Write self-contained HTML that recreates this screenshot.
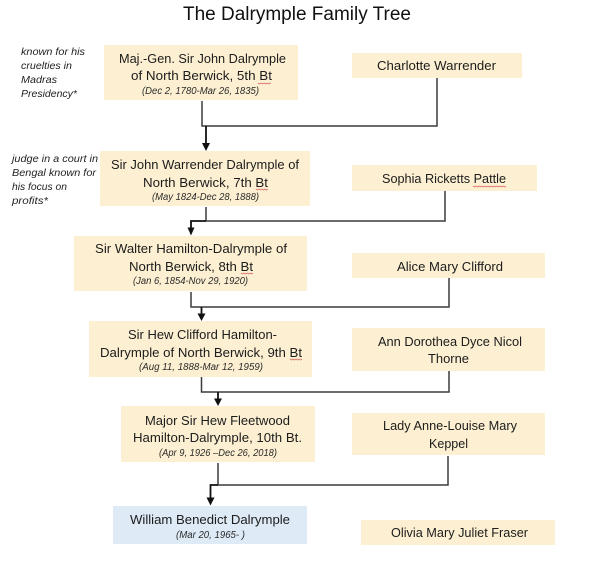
<!DOCTYPE html>
<html>
<head>
<meta charset="utf-8">
<style>
html,body{margin:0;padding:0;background:#fff;width:600px;height:567px;overflow:hidden}
svg{display:block}
text{font-family:"Liberation Sans",sans-serif;fill:#1c1c1c}
.n{font-size:12.5px}
.d{font-size:10px;font-style:italic;fill:#2a2a2a}
.a{font-size:10.5px;font-style:italic;fill:#222}
.t{font-size:19px;fill:#111}
.y{fill:#fdf0d2}
.l{stroke:#3c3c3c;stroke-width:1.5;fill:none}
.k{stroke:#111;stroke-width:1.8;fill:none}
.s{stroke:#d9706a;stroke-width:.8;fill:none}
</style>
</head>
<body>
<svg width="600" height="567" viewBox="0 0 600 567" xmlns="http://www.w3.org/2000/svg">
<text class="t" x="183" y="20" textLength="228" lengthAdjust="spacingAndGlyphs">The Dalrymple Family Tree</text>

<rect class="y" x="104" y="45" width="194" height="55"/>
<rect class="y" x="100" y="151" width="210" height="55"/>
<rect class="y" x="74" y="236" width="233" height="55"/>
<rect class="y" x="89" y="321" width="223" height="56"/>
<rect class="y" x="121" y="406" width="194" height="56"/>
<rect x="113" y="506" width="194" height="38" fill="#deeaf6"/>
<rect class="y" x="352" y="53" width="170" height="25"/>
<rect class="y" x="352" y="165" width="185" height="26"/>
<rect class="y" x="352" y="253" width="193" height="25"/>
<rect class="y" x="352" y="328" width="193" height="43"/>
<rect class="y" x="352" y="413" width="193" height="42"/>
<rect class="y" x="361" y="520" width="194" height="25"/>

<path class="l" d="M202 101V126H437V78"/>
<path class="k" d="M206 126V144"/><path d="M202 143H210L206 151Z" fill="#111"/>
<path class="l" d="M206 207V221H445V191"/>
<path class="k" d="M206 221H191V228"/><path d="M187.500 227.500H194.500L191 235.500Z" fill="#111"/>
<path class="l" d="M191 292V307H449V278"/>
<path class="k" d="M201.500 307V314"/><path d="M197.500 313.500H205.500L201.500 321Z" fill="#111"/>
<path class="l" d="M201.500 377V392H449V371"/>
<path class="k" d="M218 392V399"/><path d="M214 398.500H222L218 406Z" fill="#111"/>
<path class="l" d="M218 463V485H448V456"/>
<path class="k" d="M218 485H210.500V498"/><path d="M206.500 497.500H214.500L210.500 505.500Z" fill="#111"/>

<text class="a" x="21" y="55" textLength="64" lengthAdjust="spacingAndGlyphs">known for his</text>
<text class="a" x="21" y="69" textLength="51" lengthAdjust="spacingAndGlyphs">cruelties in</text>
<text class="a" x="21" y="83" textLength="36" lengthAdjust="spacingAndGlyphs">Madras</text>
<text class="a" x="21" y="97" textLength="56" lengthAdjust="spacingAndGlyphs">Presidency*</text>
<text class="a" x="12" y="162" textLength="86" lengthAdjust="spacingAndGlyphs">judge in a court in</text>
<text class="a" x="12" y="176" textLength="84" lengthAdjust="spacingAndGlyphs">Bengal known for</text>
<text class="a" x="12" y="190" textLength="55" lengthAdjust="spacingAndGlyphs">his focus on</text>
<text class="a" x="12" y="204" textLength="36" lengthAdjust="spacingAndGlyphs">profits*</text>

<text class="n" x="119" y="63" textLength="167" lengthAdjust="spacingAndGlyphs">Maj.-Gen. Sir John Dalrymple</text>
<text class="n" x="131" y="80" textLength="141" lengthAdjust="spacingAndGlyphs">of North Berwick, 5th Bt</text>
<text class="d" x="142" y="94" textLength="117" lengthAdjust="spacingAndGlyphs">(Dec 2, 1780-Mar 26, 1835)</text>

<text class="n" x="111" y="169" textLength="188" lengthAdjust="spacingAndGlyphs">Sir John Warrender Dalrymple of</text>
<text class="n" x="143" y="187" textLength="125" lengthAdjust="spacingAndGlyphs">North Berwick, 7th Bt</text>
<text class="d" x="152" y="200" textLength="107" lengthAdjust="spacingAndGlyphs">(May 1824-Dec 28, 1888)</text>

<text class="n" x="95" y="253" textLength="192" lengthAdjust="spacingAndGlyphs">Sir Walter Hamilton-Dalrymple of</text>
<text class="n" x="129" y="271" textLength="124" lengthAdjust="spacingAndGlyphs">North Berwick, 8th Bt</text>
<text class="d" x="133" y="284" textLength="115" lengthAdjust="spacingAndGlyphs">(Jan 6, 1854-Nov 29, 1920)</text>

<text class="n" x="128" y="339" textLength="149" lengthAdjust="spacingAndGlyphs">Sir Hew Clifford Hamilton-</text>
<text class="n" x="100" y="357" textLength="202" lengthAdjust="spacingAndGlyphs">Dalrymple of North Berwick, 9th Bt</text>
<text class="d" x="139" y="370" textLength="124" lengthAdjust="spacingAndGlyphs">(Aug 11, 1888-Mar 12, 1959)</text>

<text class="n" x="145" y="425" textLength="145" lengthAdjust="spacingAndGlyphs">Major Sir Hew Fleetwood</text>
<text class="n" x="133" y="442" textLength="169" lengthAdjust="spacingAndGlyphs">Hamilton-Dalrymple, 10th Bt.</text>
<text class="d" x="159" y="456" textLength="118" lengthAdjust="spacingAndGlyphs">(Apr 9, 1926 –Dec 26, 2018)</text>

<text class="n" x="130" y="524" textLength="160" lengthAdjust="spacingAndGlyphs">William Benedict Dalrymple</text>
<text class="d" x="176" y="538" textLength="69" lengthAdjust="spacingAndGlyphs">(Mar 20, 1965- )</text>

<text class="n" x="377" y="70" textLength="119" lengthAdjust="spacingAndGlyphs">Charlotte Warrender</text>
<text class="n" x="382" y="183" textLength="124" lengthAdjust="spacingAndGlyphs">Sophia Ricketts Pattle</text>
<text class="n" x="397" y="271" textLength="106" lengthAdjust="spacingAndGlyphs">Alice Mary Clifford</text>
<text class="n" x="378" y="346" textLength="144" lengthAdjust="spacingAndGlyphs">Ann Dorothea Dyce Nicol</text>
<text class="n" x="428" y="363" textLength="41" lengthAdjust="spacingAndGlyphs">Thorne</text>
<text class="n" x="383" y="430" textLength="134" lengthAdjust="spacingAndGlyphs">Lady Anne-Louise Mary</text>
<text class="n" x="429" y="448" textLength="39" lengthAdjust="spacingAndGlyphs">Keppel</text>
<text class="n" x="391" y="537" textLength="137" lengthAdjust="spacingAndGlyphs">Olivia Mary Juliet Fraser</text>

<path class="s" d="M258 83l1.500 1 1.500-1 1.500 1 1.500-1 1.500 1 1.500-1 1.500 1 1.500-1 1 .5"/>
<path class="s" d="M256 189l1.500 1 1.500-1 1.500 1 1.500-1 1.500 1 1.500-1 1.500 1 1.500-1"/>
<path class="s" d="M241 273l1.500 1 1.500-1 1.500 1 1.500-1 1.500 1 1.500-1 1.500 1 1.500-1"/>
<path class="s" d="M290 359l1.500 1 1.500-1 1.500 1 1.500-1 1.500 1 1.500-1 1.500 1 1.500-1"/>
<path class="s" d="M473 186l1.500 1 1.500-1 1.500 1 1.500-1 1.500 1 1.500-1 1.500 1 1.500-1 1.500 1 1.500-1 1.500 1 1.500-1 1.500 1 1.500-1 1.500 1 1.500-1 1.500 1 1.500-1 1.500 1 1.500-1 1.500 1 1.500-1"/>
</svg>
</body>
</html>
